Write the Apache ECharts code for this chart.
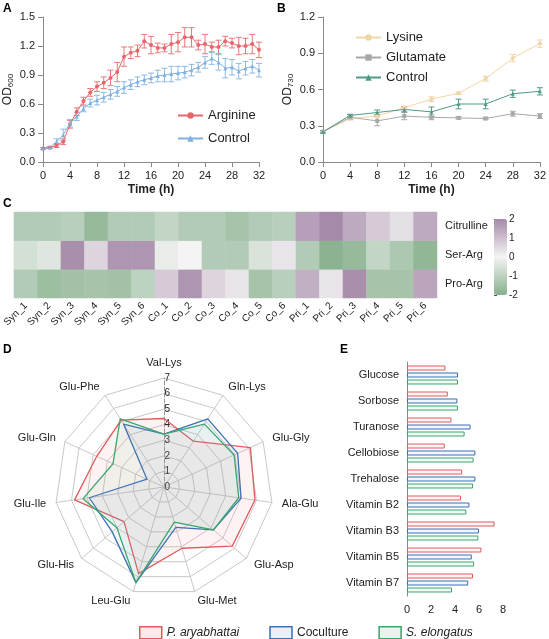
<!DOCTYPE html>
<html><head><meta charset="utf-8">
<script src="https://cdn.jsdelivr.net/npm/echarts@6/dist/echarts.min.js"></script>
<style>html,body{margin:0;padding:0;background:#fff}#c{width:549px;height:639px}</style>
</head><body><div id="c"></div>
<script>
// Panel A
const timeA = Array.from({length:33},(_,i)=>i);
const arginine = [0.14,0.15,0.17,0.21,0.39,0.52,0.63,0.72,0.78,0.82,0.87,0.93,1.09,1.13,1.15,1.25,1.21,1.18,1.18,1.22,1.24,1.29,1.29,1.21,1.22,1.19,1.19,1.25,1.23,1.20,1.20,1.22,1.16];
const arginineErr = [0.01,0.01,0.02,0.03,0.04,0.04,0.04,0.04,0.05,0.06,0.08,0.1,0.1,0.06,0.06,0.07,0.09,0.05,0.04,0.1,0.1,0.1,0.1,0.05,0.1,0.05,0.07,0.05,0.05,0.09,0.08,0.1,0.08];
const controlA = [0.14,0.15,0.21,0.28,0.40,0.47,0.55,0.61,0.64,0.67,0.70,0.73,0.77,0.80,0.83,0.85,0.87,0.89,0.90,0.91,0.92,0.93,0.95,0.98,1.03,1.07,1.03,0.97,0.98,0.94,0.97,0.99,0.95];
const controlAErr = [0.01,0.01,0.03,0.06,0.04,0.04,0.03,0.04,0.05,0.05,0.05,0.05,0.06,0.05,0.05,0.05,0.05,0.06,0.07,0.08,0.07,0.06,0.06,0.05,0.06,0.06,0.08,0.1,0.08,0.08,0.07,0.07,0.07];
// Panel B
const timeB = [0,4,8,12,16,20,24,28,32];
const lysine = [0.25,0.36,0.38,0.45,0.52,0.57,0.69,0.86,0.98];
const lysineErr = [0.01,0.01,0.01,0.01,0.02,0.01,0.02,0.03,0.03];
const glutamate = [0.25,0.37,0.34,0.38,0.37,0.365,0.36,0.40,0.38];
const glutamateErr = [0.01,0.02,0.04,0.03,0.02,0.01,0.01,0.02,0.02];
const controlB = [0.25,0.385,0.41,0.435,0.415,0.48,0.48,0.565,0.585];
const controlBErr = [0.01,0.01,0.02,0.02,0.04,0.04,0.04,0.03,0.03];
// Panel C
const heatCols = ['Syn_1','Syn_2','Syn_3','Syn_4','Syn_5','Syn_6','Co_1','Co_2','Co_3','Co_4','Co_5','Co_6','Pri_1','Pri_2','Pri_3','Pri_4','Pri_5','Pri_6'];
const heatRows = ['Pro-Arg','Ser-Arg','Citrulline'];
const citrulline = [-1.2,-1.2,-1.1,-1.7,-1.2,-1.2,-0.9,-1.2,-1.2,-1.4,-1.2,-1.1,1.6,2.1,1.4,0.8,0.4,1.4];
const serArg = [-0.6,-0.4,1.9,0.6,1.8,1.8,-0.2,0,-1.2,-1.2,-0.5,0.3,-1.2,-1.9,-1.7,-0.9,-1.3,-1.8];
const proArg = [-1.2,-1.6,-1.5,-1.4,-1.5,-1.0,0.8,1.8,0.6,0.3,-1.4,-1.1,1.3,0.3,1.9,-1.4,-1.4,1.5];
// Panel D (clockwise from top)
const radarAxes = ['Val-Lys','Gln-Lys','Glu-Gly','Ala-Glu','Glu-Asp','Glu-Met','Leu-Glu','Glu-His','Glu-Ile','Glu-Gln','Glu-Phe'];
const radarP = [4.4,3.5,6.1,5.9,5.8,4.1,5.8,3.4,5.8,4.75,5.1];
const radarCo = [3.4,5.2,5.2,5.0,4.2,2.7,6.4,4.4,4.85,1.2,4.8];
const radarS = [3.4,4.8,4.95,4.85,4.2,2.35,6.4,4.0,5.25,3.6,5.2];
// Panel E
const nutrients = ['Glucose','Sorbose','Turanose','Cellobiose','Trehalose','Vitamin B2','Vitamin B3','Vitamin B5','Vitamin B7'];
const nutP = [3.2,3.4,3.7,3.15,4.6,4.5,7.3,6.2,5.5];
const nutCo = [4.25,4.2,5.3,5.7,5.7,5.2,6.0,5.4,5.1];
const nutS = [4.25,4.25,4.8,5.55,5.5,4.95,5.95,5.6,3.75];

const names = ['P. aryabhattai','Coculture','S. elongatus'];
const RED='#e05a5e', BLUE='#3b6fb6', GREEN='#3aa56d';
const axisCol='#8a8a8a', txt='#222';
// ECharts radar runs counterclockwise: reorder to draw clockwise
const cw = arr => [arr[0], ...arr.slice(1).reverse()];

function errSeries(xs, ys, es, color, xi, yi){
  return {type:'custom', xAxisIndex:xi, yAxisIndex:yi, silent:true, z:1,
    data: xs.map((x,i)=>[x,ys[i],es[i]]),
    renderItem:(p,api)=>{
      const x=api.value(0), y=api.value(1), e=api.value(2);
      const a=api.coord([x,y+e]), b=api.coord([x,y-e]);
      const w=3;
      const st={stroke:color,lineWidth:1};
      return {type:'group',children:[
        {type:'line',shape:{x1:a[0],y1:a[1],x2:b[0],y2:b[1]},style:st},
        {type:'line',shape:{x1:a[0]-w,y1:a[1],x2:a[0]+w,y2:a[1]},style:st},
        {type:'line',shape:{x1:b[0]-w,y1:b[1],x2:b[0]+w,y2:b[1]},style:st}]};
    }};
}
function lineSeries(name, xs, ys, color, sym, xi, yi){
  return {name, type:'line', xAxisIndex:xi, yAxisIndex:yi, data:xs.map((x,i)=>[x,ys[i]]),
    symbol:sym, symbolSize:4, lineStyle:{color,width:1}, itemStyle:{color}, z:2};
}
const axLine={lineStyle:{color:axisCol}};
const axLabel={color:txt,fontSize:11,fontWeight:'normal'};
const nameStyle={color:txt,fontSize:12,rich:{sub:{fontSize:8,verticalAlign:'bottom',padding:[6,0,0,0]}}};

const heatData=[];
[proArg,serArg,citrulline].forEach((row,r)=>row.forEach((v,c)=>heatData.push([c,r,v])));

const chart=echarts.init(document.getElementById('c'));
chart.setOption({
  animation:false,
  textStyle:{fontFamily:'Liberation Sans, Arial, sans-serif',fontWeight:'normal'},
  graphic:[
    {type:'text',left:3,top:3,style:{text:'A',font:'bold 12px Liberation Sans',fill:'#000'}},
    {type:'text',left:277,top:3,style:{text:'B',font:'bold 12px Liberation Sans',fill:'#000'}},
    {type:'text',left:3,top:198,style:{text:'C',font:'bold 12px Liberation Sans',fill:'#000'}},
    {type:'text',left:3,top:344,style:{text:'D',font:'bold 12px Liberation Sans',fill:'#000'}},
    {type:'text',left:340,top:344,style:{text:'E',font:'bold 12px Liberation Sans',fill:'#000'}}
  ],
  grid:[
    {left:43,width:216,top:17,height:145},
    {left:323,width:217,top:17,height:145},
    {left:13,width:424,top:212,height:86},
    {left:407,width:96,top:362,height:234},
    {left:494,width:13,top:219,height:76}
  ],
  xAxis:[
    {gridIndex:0,type:'value',min:0,max:32,interval:4,axisLine:axLine,axisTick:{lineStyle:{color:axisCol}},axisLabel:axLabel,splitLine:{show:false},name:'Time (h)',nameLocation:'middle',nameGap:22,nameTextStyle:{color:txt,fontSize:12,fontWeight:'bold'}},
    {gridIndex:1,type:'value',min:0,max:32,interval:4,axisLine:axLine,axisTick:{lineStyle:{color:axisCol}},axisLabel:axLabel,splitLine:{show:false},name:'Time (h)',nameLocation:'middle',nameGap:22,nameTextStyle:{color:txt,fontSize:12,fontWeight:'bold'}},
    {gridIndex:2,type:'category',data:heatCols,axisLine:{show:false},axisTick:{show:false},axisLabel:{color:txt,fontSize:10,rotate:45,margin:6,interval:0},splitArea:{show:false}},
    {gridIndex:3,type:'value',min:0,max:8,interval:2,axisLine:axLine,axisTick:{lineStyle:{color:axisCol}},axisLabel:axLabel,splitLine:{show:false}},
    {gridIndex:4,type:'value',show:false,min:0,max:1}
  ],
  yAxis:[
    {gridIndex:0,type:'value',min:0,max:1.5,interval:0.3,axisLine:{show:true,lineStyle:{color:axisCol}},axisTick:{show:true,lineStyle:{color:axisCol}},axisLabel:{...axLabel,formatter:v=>v.toFixed(1)},splitLine:{show:false},name:'OD{sub|600}',nameLocation:'middle',nameGap:28,nameTextStyle:nameStyle},
    {gridIndex:1,type:'value',min:0,max:1.2,interval:0.3,axisLine:{show:true,lineStyle:{color:axisCol}},axisTick:{show:true,lineStyle:{color:axisCol}},axisLabel:{...axLabel,formatter:v=>v.toFixed(1)},splitLine:{show:false},name:'OD{sub|730}',nameLocation:'middle',nameGap:28,nameTextStyle:nameStyle},
    {gridIndex:2,type:'category',data:heatRows,position:'right',axisLine:{show:false},axisTick:{show:false},axisLabel:{color:txt,fontSize:11,margin:8}},
    {gridIndex:3,type:'category',data:nutrients,inverse:true,axisLine:axLine,axisTick:{lineStyle:{color:axisCol}},axisLabel:{color:txt,fontSize:11}},
    {gridIndex:4,type:'value',min:-2,max:2,interval:1,position:'right',axisLine:{show:false},axisTick:{show:true,length:3,lineStyle:{color:'#555'}},axisLabel:{color:txt,fontSize:10,margin:2},splitLine:{show:false}}
  ],
  visualMap:{type:'continuous',min:-2,max:2,seriesIndex:9,show:true,left:494,top:219,itemWidth:13,itemHeight:76,text:null,showLabel:false,calculable:false,inRange:{color:['#86b08c','#f4f4f4','#a68aa9']},textStyle:{fontSize:1,color:'rgba(0,0,0,0)'},padding:0},
  radar:{center:[164,487],radius:109,startAngle:90,splitNumber:7,shape:'polygon',
    indicator:cw(radarAxes).map((n,i)=>i===0?{name:n,max:7,min:0,axisLabel:{show:true,color:txt,fontSize:10,margin:-6,showMinLabel:true},axisLine:{lineStyle:{color:'#999',type:'dashed'}}}:{name:n,max:7,min:0}),
    axisName:{color:txt,fontSize:11},nameGap:10,
    axisLabel:{show:false},
    splitLine:{lineStyle:{color:'#c8c8c8'}},splitArea:{show:false},axisLine:{lineStyle:{color:'#c8c8c8'}}},
  legend:[
    {left:172,top:104,orient:'vertical',itemGap:10,data:['Arginine','Control'],textStyle:{color:txt,fontSize:13},itemWidth:25,itemHeight:8},
    {left:350,top:26,orient:'vertical',itemGap:7,data:['Lysine','Glutamate','Control '],textStyle:{color:txt,fontSize:13},itemWidth:25,itemHeight:8},
    {left:134,top:621,orient:'horizontal',itemGap:30,icon:'rect',itemWidth:22,itemHeight:12,
      data:[{name:names[0],itemStyle:{color:'#fde9e9',borderColor:RED,borderWidth:1.5}},
            {name:names[1],itemStyle:{color:'#e8f0fa',borderColor:BLUE,borderWidth:1.5}},
            {name:names[2],itemStyle:{color:'#e6f6ec',borderColor:GREEN,borderWidth:1.5}}],
      formatter:n=>n==='Coculture'?n:'{i|'+n+'}',
      textStyle:{color:txt,fontSize:12,rich:{i:{fontStyle:'italic',fontSize:12,color:txt}}}}
  ],
  series:[
    errSeries(timeA,arginine,arginineErr,'#e8787b',0,0),
    errSeries(timeA,controlA,controlAErr,'#8dbbe6',0,0),
    lineSeries('Arginine',timeA,arginine,'#e8666a','circle',0,0),
    lineSeries('Control',timeA,controlA,'#7fb0e0','triangle',0,0),
    errSeries(timeB,lysine,lysineErr,'#f0d5a5',1,1),
    errSeries(timeB,glutamate,glutamateErr,'#aaaaaa',1,1),
    errSeries(timeB,controlB,controlBErr,'#4f9a86',1,1),
    lineSeries('Lysine',timeB,lysine,'#f0d6a6','circle',1,1),
    lineSeries('Glutamate',timeB,glutamate,'#a8a8a8','rect',1,1),
    {type:'heatmap',xAxisIndex:2,yAxisIndex:2,data:heatData,itemStyle:{borderWidth:0}},
    lineSeries('Control ',timeB,controlB,'#4f9a86','triangle',1,1),
    {type:'scatter',xAxisIndex:4,yAxisIndex:4,data:[],silent:true},
    {name:names[0],type:'radar',symbol:'none',lineStyle:{color:RED,width:1.3},itemStyle:{color:RED},areaStyle:{color:'rgba(240,120,120,0.12)'},data:[{value:cw(radarP),name:names[0]}],z:2},
    {name:names[1],type:'radar',symbol:'none',lineStyle:{color:BLUE,width:1.3},itemStyle:{color:BLUE},areaStyle:{color:'rgba(120,150,200,0.12)'},data:[{value:cw(radarCo),name:names[1]}],z:3},
    {name:names[2],type:'radar',symbol:'none',lineStyle:{color:GREEN,width:1.3},itemStyle:{color:GREEN},areaStyle:{color:'rgba(120,200,150,0.12)'},data:[{value:cw(radarS),name:names[2]}],z:4},
    {name:names[0],type:'bar',xAxisIndex:3,yAxisIndex:3,data:nutP,barWidth:5,barGap:'40%',itemStyle:{color:'#fff4f4',borderColor:RED,borderWidth:1}},
    {name:names[1],type:'bar',xAxisIndex:3,yAxisIndex:3,data:nutCo,barWidth:5,barGap:'40%',itemStyle:{color:'#f2f6fc',borderColor:BLUE,borderWidth:1}},
    {name:names[2],type:'bar',xAxisIndex:3,yAxisIndex:3,data:nutS,barWidth:5,barGap:'40%',itemStyle:{color:'#f1faf4',borderColor:GREEN,borderWidth:1}}
  ]
});
</script></body></html>
